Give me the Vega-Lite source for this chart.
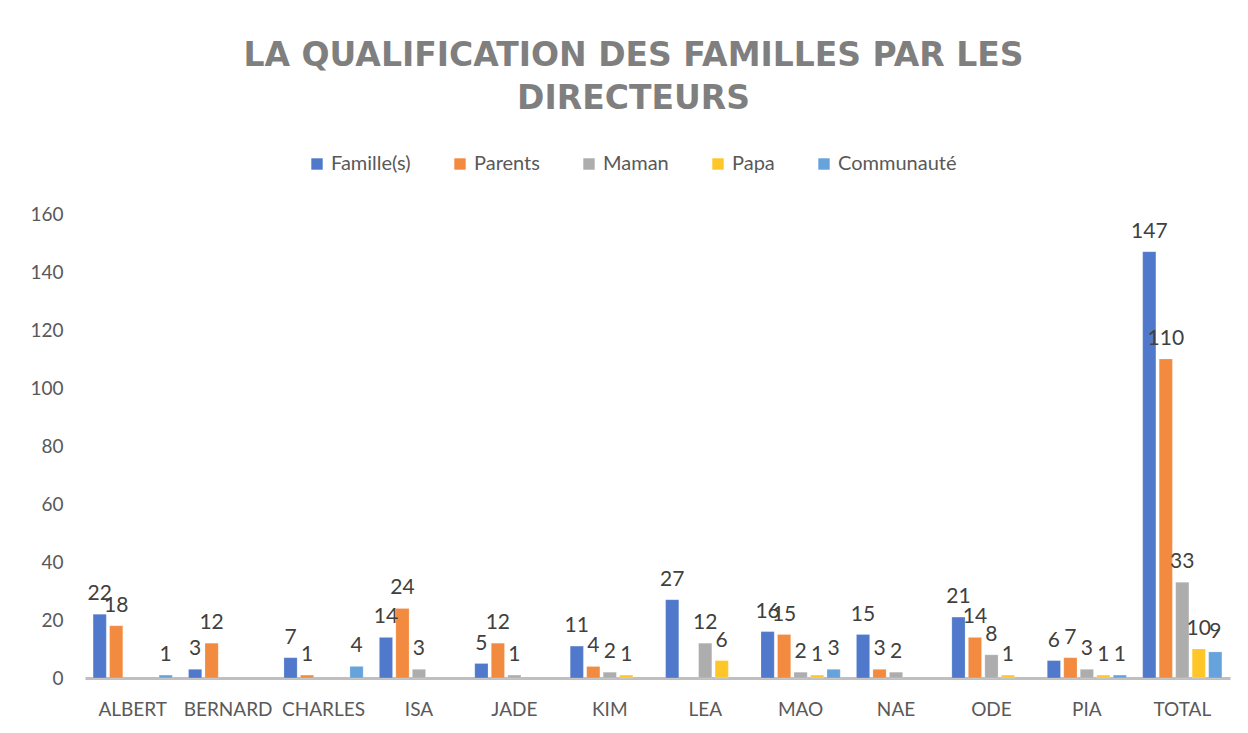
{
  "$schema": "https://vega.github.io/schema/vega-lite/v6.json",
  "width": 1145,
  "height": 464,
  "autosize": "none",
  "padding": {"left": 85, "top": 214, "right": 18, "bottom": 55},
  "background": "white",
  "title": {
    "text": ["LA QUALIFICATION DES FAMILLES PAR LES", "DIRECTEURS"],
    "font": "DejaVu Sans",
    "fontSize": 33,
    "fontWeight": "bold",
    "color": "#7f7f7f",
    "lineHeight": 43,
    "anchor": "middle",
    "dx": -24,
    "offset": 38
  },
  "data": {
    "values": [
      {"nom": "ALBERT", "serie": "Famille(s)", "valeur": 22},
      {"nom": "ALBERT", "serie": "Parents", "valeur": 18},
      {"nom": "ALBERT", "serie": "Communauté", "valeur": 1},
      {"nom": "BERNARD", "serie": "Famille(s)", "valeur": 3},
      {"nom": "BERNARD", "serie": "Parents", "valeur": 12},
      {"nom": "CHARLES", "serie": "Famille(s)", "valeur": 7},
      {"nom": "CHARLES", "serie": "Parents", "valeur": 1},
      {"nom": "CHARLES", "serie": "Communauté", "valeur": 4},
      {"nom": "ISA", "serie": "Famille(s)", "valeur": 14},
      {"nom": "ISA", "serie": "Parents", "valeur": 24},
      {"nom": "ISA", "serie": "Maman", "valeur": 3},
      {"nom": "JADE", "serie": "Famille(s)", "valeur": 5},
      {"nom": "JADE", "serie": "Parents", "valeur": 12},
      {"nom": "JADE", "serie": "Maman", "valeur": 1},
      {"nom": "KIM", "serie": "Famille(s)", "valeur": 11},
      {"nom": "KIM", "serie": "Parents", "valeur": 4},
      {"nom": "KIM", "serie": "Maman", "valeur": 2},
      {"nom": "KIM", "serie": "Papa", "valeur": 1},
      {"nom": "LEA", "serie": "Famille(s)", "valeur": 27},
      {"nom": "LEA", "serie": "Maman", "valeur": 12},
      {"nom": "LEA", "serie": "Papa", "valeur": 6},
      {"nom": "MAO", "serie": "Famille(s)", "valeur": 16},
      {"nom": "MAO", "serie": "Parents", "valeur": 15},
      {"nom": "MAO", "serie": "Maman", "valeur": 2},
      {"nom": "MAO", "serie": "Papa", "valeur": 1},
      {"nom": "MAO", "serie": "Communauté", "valeur": 3},
      {"nom": "NAE", "serie": "Famille(s)", "valeur": 15},
      {"nom": "NAE", "serie": "Parents", "valeur": 3},
      {"nom": "NAE", "serie": "Maman", "valeur": 2},
      {"nom": "ODE", "serie": "Famille(s)", "valeur": 21},
      {"nom": "ODE", "serie": "Parents", "valeur": 14},
      {"nom": "ODE", "serie": "Maman", "valeur": 8},
      {"nom": "ODE", "serie": "Papa", "valeur": 1},
      {"nom": "PIA", "serie": "Famille(s)", "valeur": 6},
      {"nom": "PIA", "serie": "Parents", "valeur": 7},
      {"nom": "PIA", "serie": "Maman", "valeur": 3},
      {"nom": "PIA", "serie": "Papa", "valeur": 1},
      {"nom": "PIA", "serie": "Communauté", "valeur": 1},
      {"nom": "TOTAL", "serie": "Famille(s)", "valeur": 147},
      {"nom": "TOTAL", "serie": "Parents", "valeur": 110},
      {"nom": "TOTAL", "serie": "Maman", "valeur": 33},
      {"nom": "TOTAL", "serie": "Papa", "valeur": 10},
      {"nom": "TOTAL", "serie": "Communauté", "valeur": 9}
    ]
  },
  "encoding": {
    "x": {
      "field": "nom",
      "type": "nominal",
      "sort": ["ALBERT", "BERNARD", "CHARLES", "ISA", "JADE", "KIM", "LEA", "MAO", "NAE", "ODE", "PIA", "TOTAL"],
      "scale": {"paddingInner": 0.17, "paddingOuter": 0.085},
      "axis": {
        "title": null,
        "labelAngle": 0,
        "labelFont": "Lato",
        "labelFontSize": 19,
        "labelColor": "#595959",
        "labelPadding": 22,
        "ticks": false,
        "domainColor": "#bfbfbf",
        "domainWidth": 3
      }
    },
    "xOffset": {
      "field": "serie",
      "type": "nominal",
      "scale": {"domain": ["Famille(s)", "Parents", "Maman", "Papa", "Communauté"], "paddingInner": 0.2}
    },
    "y": {
      "field": "valeur",
      "type": "quantitative",
      "scale": {"domain": [0, 160], "nice": false},
      "axis": {
        "title": null,
        "values": [0, 20, 40, 60, 80, 100, 120, 140, 160],
        "grid": false,
        "domain": false,
        "ticks": false,
        "labelFont": "Lato",
        "labelFontSize": 19,
        "labelColor": "#595959",
        "labelPadding": 22
      }
    }
  },
  "layer": [
    {
      "mark": {"type": "bar", "stroke": "white", "strokeOpacity": 0.4, "strokeWidth": 0.5},
      "encoding": {
        "color": {
          "field": "serie",
          "type": "nominal",
          "scale": {
            "domain": ["Famille(s)", "Parents", "Maman", "Papa", "Communauté"],
            "range": ["#5079cb", "#f28a40", "#adadad", "#ffc629", "#66a2dc"]
          },
          "legend": {
            "title": null,
            "orient": "none",
            "legendX": 222,
            "legendY": -60,
            "direction": "horizontal",
            "symbolType": "square",
            "symbolSize": 130,
            "symbolStrokeWidth": 0,
            "labelFont": "Lato",
            "labelFontSize": 20,
            "labelColor": "#595959",
            "columnPadding": 39,
            "labelOffset": 4
          }
        }
      }
    },
    {
      "mark": {"type": "text", "baseline": "bottom", "dy": -10, "font": "Lato", "fontSize": 21, "color": "#404040"},
      "encoding": {
        "text": {"field": "valeur", "type": "quantitative"}
      }
    }
  ],
  "config": {"view": {"stroke": null}}
}
